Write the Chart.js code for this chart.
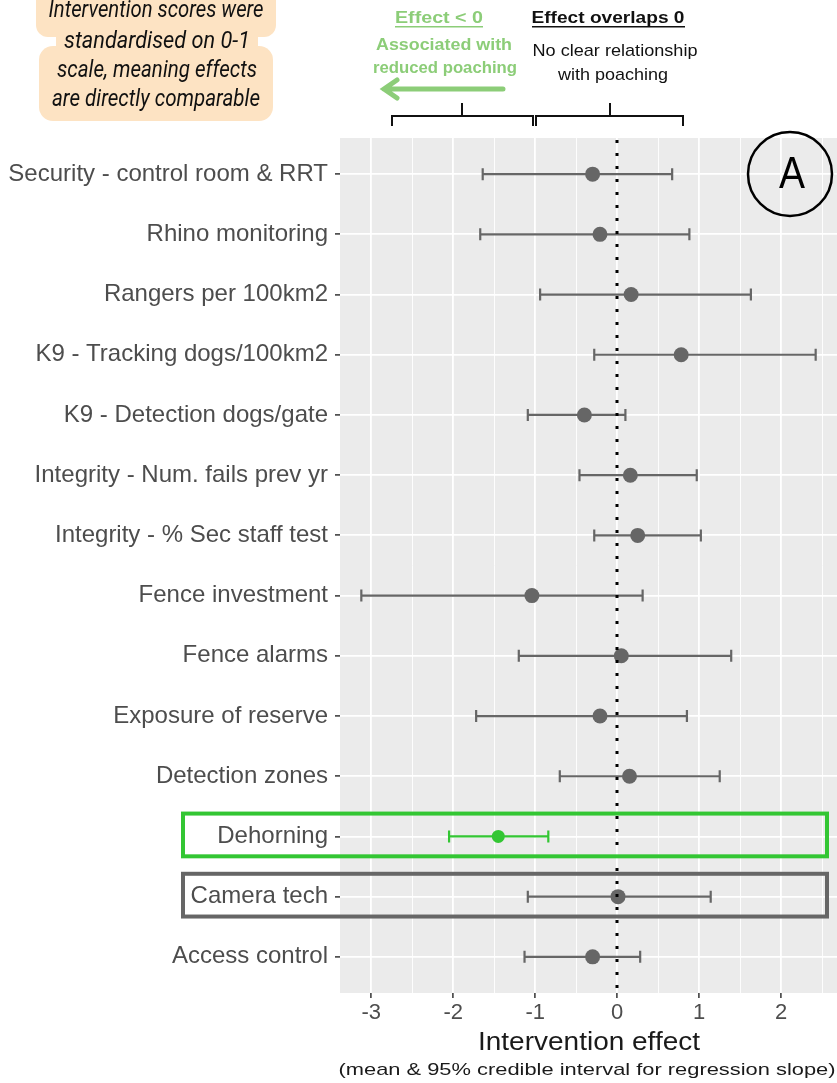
<!DOCTYPE html>
<html>
<head>
<meta charset="utf-8">
<script src="https://cdn.jsdelivr.net/npm/chart.js@4"></script>
<style>
  html, body { margin: 0; padding: 0; background: #fff; overflow: hidden; }
  #wrap { width: 837px; height: 1083px; position: relative; }
  canvas { display: block; }
</style>
</head>
<body>
<div id="wrap"><canvas id="forestChart" width="837" height="1083"></canvas></div>
<script>
// Interventions, top to bottom
const categories = [
    'Security - control room & RRT', 'Rhino monitoring', 'Rangers per 100km2',
    'K9 - Tracking dogs/100km2', 'K9 - Detection dogs/gate', 'Integrity - Num. fails prev yr',
    'Integrity - % Sec staff test', 'Fence investment', 'Fence alarms', 'Exposure of reserve',
    'Detection zones', 'Dehorning', 'Camera tech', 'Access control'
];
// mean effect and 95% credible interval
const means = [-0.30, -0.21, 0.17, 0.78, -0.40, 0.16, 0.25, -1.04, 0.05, -0.21, 0.15, -1.45, 0.01, -0.30];
const lower = [-1.64, -1.67, -0.94, -0.28, -1.09, -0.46, -0.28, -3.12, -1.20, -1.72, -0.70, -2.05, -1.09, -1.13];
const upper = [0.67, 0.88, 1.63, 2.42, 0.10, 0.97, 1.02, 0.31, 1.39, 0.85, 1.25, -0.84, 1.14, 0.28];
const xTicks = [-3, -2, -1, 0, 1, 2];

const GREY = '#666666';
const GREEN = '#33c633';
const LIGHT_GREEN = '#8ccd78';
const greenRow = categories.indexOf('Dehorning');
const greyRow = categories.indexOf('Camera tech');

function fitText(ctx, text, cx, cy, width, font, color) {
    ctx.save();
    ctx.font = font;
    ctx.fillStyle = color;
    ctx.textAlign = 'center';
    ctx.textBaseline = 'middle';
    const w = ctx.measureText(text).width;
    ctx.translate(cx, cy);
    ctx.scale(width / w, 1);
    ctx.fillText(text, 0, 0);
    ctx.restore();
}

function roundRect(ctx, x0, y0, x1, y1, r) {
    ctx.beginPath();
    ctx.roundRect(x0, y0, x1 - x0, y1 - y0, r);
    ctx.fill();
}

const panelBg = {
    id: 'panelBg',
    beforeDraw(chart) {
        const { ctx, chartArea: a } = chart;
        ctx.save();
        ctx.fillStyle = '#ebebeb';
        ctx.fillRect(a.left, a.top, a.right - a.left, a.bottom - a.top);
        ctx.restore();
    }
};

const errorBars = {
    id: 'errorBars',
    beforeDatasetsDraw(chart) {
        const { ctx, scales: { x, y } } = chart;
        ctx.save();
        ctx.lineWidth = 2.2;
        categories.forEach((c, i) => {
            const py = y.getPixelForValue(i);
            const x0 = x.getPixelForValue(lower[i]);
            const x1 = x.getPixelForValue(upper[i]);
            ctx.strokeStyle = i === greenRow ? GREEN : GREY;
            ctx.beginPath();
            ctx.moveTo(x0, py); ctx.lineTo(x1, py);
            ctx.moveTo(x0, py - 6); ctx.lineTo(x0, py + 6);
            ctx.moveTo(x1, py - 6); ctx.lineTo(x1, py + 6);
            ctx.stroke();
        });
        ctx.restore();
    },
    afterDatasetsDraw(chart) {
        // dotted zero line on top
        const { ctx, chartArea: a, scales: { x } } = chart;
        const px = Math.round(x.getPixelForValue(0));
        ctx.save();
        ctx.strokeStyle = '#000';
        ctx.lineWidth = 3;
        ctx.setLineDash([3, 10]);
        ctx.beginPath();
        ctx.moveTo(px, a.top + 2); ctx.lineTo(px, a.bottom);
        ctx.stroke();
        ctx.restore();
    }
};

const annotations = {
    id: 'annotations',
    afterDraw(chart) {
        const { ctx, scales: { y } } = chart;
        ctx.save();

        // highlight boxes
        ctx.lineWidth = 4;
        [[greenRow, GREEN], [greyRow, GREY]].forEach(([row, col]) => {
            const t = y.getPixelForValue(row - 0.38);
            const b = y.getPixelForValue(row + 0.33);
            ctx.strokeStyle = col;
            ctx.strokeRect(183, t, 644, b - t);
        });

        // circle A
        ctx.lineWidth = 2.5;
        ctx.strokeStyle = '#000';
        ctx.beginPath();
        ctx.arc(790, 174, 42, 0, Math.PI * 2);
        ctx.stroke();
        fitText(ctx, 'A', 792, 176, 26, '44px "DejaVu Sans ExtraLight", "Liberation Sans"', '#000');

        // peach note
        ctx.fillStyle = '#fde3c3';
        roundRect(ctx, 36, -14, 276, 37, 12);
        roundRect(ctx, 56, 20, 258, 66, 8);
        roundRect(ctx, 39, 46, 273, 121, 14);
        const noteFont = 'italic 23px Roboto';
        fitText(ctx, 'Intervention scores were', 156, 11, 215, noteFont, '#111');
        fitText(ctx, 'standardised on 0-1', 157, 42, 186, noteFont, '#111');
        fitText(ctx, 'scale, meaning effects', 157, 71, 200, noteFont, '#111');
        fitText(ctx, 'are directly comparable', 156, 100, 208, noteFont, '#111');

        // effect < 0 annotation
        fitText(ctx, 'Effect < 0', 439, 18, 88, 'bold 17px "Liberation Sans"', LIGHT_GREEN);
        fitText(ctx, 'Associated with', 444, 45, 136, 'bold 17px "Liberation Sans"', LIGHT_GREEN);
        fitText(ctx, 'reduced poaching', 445, 68, 144, 'bold 17px "Liberation Sans"', LIGHT_GREEN);
        ctx.fillStyle = LIGHT_GREEN;
        ctx.fillRect(395, 26, 88, 1.5);
        ctx.strokeStyle = LIGHT_GREEN;
        ctx.lineWidth = 5;
        ctx.lineCap = 'round';
        ctx.beginPath();
        ctx.moveTo(503, 89); ctx.lineTo(384, 89);
        ctx.moveTo(397, 80); ctx.lineTo(384, 89); ctx.lineTo(397, 98);
        ctx.stroke();

        // effect overlaps 0 annotation
        fitText(ctx, 'Effect overlaps 0', 608, 18, 153, 'bold 17px "Liberation Sans"', '#111');
        ctx.fillStyle = '#111';
        ctx.fillRect(532, 26, 153, 1.5);
        fitText(ctx, 'No clear relationship', 615, 51, 165, '17px "Liberation Sans"', '#111');
        fitText(ctx, 'with poaching', 613, 75, 110, '17px "Liberation Sans"', '#111');

        // brackets
        ctx.strokeStyle = '#111';
        ctx.lineWidth = 2;
        ctx.lineCap = 'butt';
        ctx.beginPath();
        [[392, 533, 462], [536, 683, 610]].forEach(([l, r, m]) => {
            ctx.moveTo(l, 126); ctx.lineTo(l, 116); ctx.lineTo(r, 116); ctx.lineTo(r, 126);
            ctx.moveTo(m, 116); ctx.lineTo(m, 103);
        });
        ctx.stroke();

        // axis titles
        fitText(ctx, 'Intervention effect', 589, 1043, 222, '26px "Liberation Sans"', '#1a1a1a');
        fitText(ctx, '(mean & 95% credible interval for regression slope)', 587, 1070, 497, '17px "Liberation Sans"', '#1a1a1a');
        ctx.restore();
    }
};

new Chart(document.getElementById('forestChart'), {
    type: 'scatter',
    data: {
        datasets: [{
            data: means.map((m, i) => ({ x: m, y: i })),
            pointRadius: categories.map((c, i) => i === greenRow ? 6.5 : 7.5),
            pointHoverRadius: 7.5,
            pointBorderWidth: 0,
            pointBackgroundColor: categories.map((c, i) => i === greenRow ? GREEN : GREY)
        }]
    },
    options: {
        responsive: false,
        animation: false,
        layout: { autoPadding: false, padding: { top: 138, left: 0, right: 0, bottom: 0 } },
        plugins: { legend: { display: false }, tooltip: { enabled: false } },
        scales: {
            x: {
                type: 'linear',
                min: -3.38,
                max: 2.68,
                afterFit: s => { s.height = 90; },
                afterBuildTicks: s => {
                    const t = [];
                    xTicks.forEach(v => { t.push({ value: v }); t.push({ value: v + 0.5 }); });
                    s.ticks = t;
                },
                border: { display: false },
                grid: {
                    color: '#ffffff',
                    lineWidth: c => Number.isInteger(c.tick.value) ? 1.8 : 0.9,
                    tickLength: 5,
                    tickWidth: 1.5,
                    tickColor: c => Number.isInteger(c.tick.value) ? '#333333' : 'rgba(0,0,0,0)'
                },
                ticks: {
                    autoSkip: false,
                    maxRotation: 0,
                    padding: 2,
                    color: '#4d4d4d',
                    font: { family: 'Liberation Sans', size: 22 },
                    callback: v => Number.isInteger(v) ? String(v) : ''
                }
            },
            y: {
                type: 'linear',
                reverse: true,
                min: -0.6,
                max: categories.length - 0.4,
                afterFit: s => { s.width = 340; },
                afterBuildTicks: s => { s.ticks = categories.map((c, i) => ({ value: i })); },
                border: { display: false },
                grid: {
                    color: '#ffffff',
                    lineWidth: 1.8,
                    tickLength: 5,
                    tickWidth: 1.5,
                    tickColor: '#333333'
                },
                ticks: {
                    autoSkip: false,
                    padding: 7,
                    color: '#4d4d4d',
                    font: { family: 'Liberation Sans', size: 24 },
                    callback: v => categories[v]
                }
            }
        }
    },
    plugins: [panelBg, errorBars, annotations]
});
</script>
</body>
</html>
